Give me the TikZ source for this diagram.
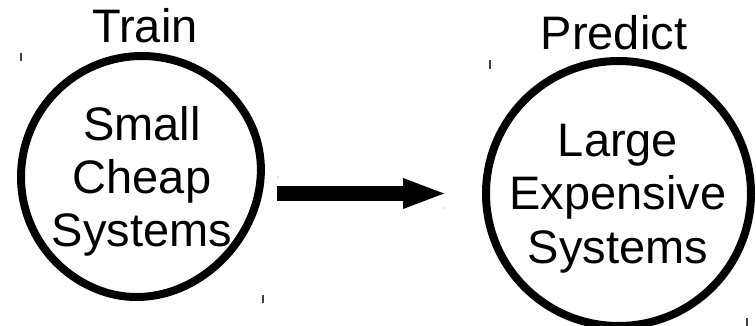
\documentclass[tikz,border=0pt]{standalone}
\usepackage{fontspec}
\setmainfont{Liberation Sans}
\usetikzlibrary{arrows.meta}
\begin{document}
\begin{tikzpicture}[x=1pt,y=-1pt,
  declare function={ba(\t)=min(90,abs(\t+40)*9/7); lr(\t)=121-6*cos(ba(\t))*cos(ba(\t));},
  bigtext/.style={font=\fontsize{47}{53}\selectfont, inner sep=0pt, anchor=base},
  ring/.style={circle, draw, line width=8pt, inner sep=0pt},
  outline/.style={draw, line width=8pt, line join=round},
  tick/.style={draw=black!75, line width=1.2pt},
  speck/.style={fill=black!45}]
\useasboundingbox (0,0) rectangle (756,326);
% left (slightly irregular) circle
\draw[outline] plot[domain=-180:178, samples=180, variable=\t]
  ({142+lr(\t)*cos(\t)},{177-lr(\t)*sin(\t)}) -- cycle;
% right circle
\node[ring, minimum size=265pt] (R) at (618.5,193.5) {};
% titles
\node[bigtext] (train) at (145,43) {Train};
\node[bigtext] (predict) at (614,50) {Predict};
% left text
\node[bigtext] (l1) at (142,141) {Small};
\node[bigtext] (l2) at (142,194) {Cheap};
\node[bigtext] (l3) at (142,247) {Systems};
% right text
\node[bigtext] (r1) at (618,157) {Large};
\node[bigtext] (r2) at (618,210) {Expensive};
\node[bigtext] (r3) at (618,263) {Systems};
% arrow
\coordinate (as) at (277,193.5);
\coordinate (ae) at (444,193.5);
\draw[line width=15pt, -{Triangle[length=41pt,width=31pt,line width=0pt]}] (as) -- (ae);
% ticks
\coordinate (t1a) at (21,53); \coordinate (t1b) at (21,61);
\coordinate (t2a) at (263,295); \coordinate (t2b) at (263,303);
\coordinate (t3a) at (490,60); \coordinate (t3b) at (490,69);
\coordinate (t4a) at (747,318); \coordinate (t4b) at (747,326);
\draw[tick] (t1a) -- (t1b);
\draw[tick] (t2a) -- (t2b);
\draw[tick] (t3a) -- (t3b);
\draw[tick] (t4a) -- (t4b);
\coordinate (d1) at (278,177); \coordinate (d2) at (444,208);
\fill[speck] (d1) circle (0.6);
\fill[speck] (d2) circle (0.6);
\end{tikzpicture}
\end{document}
